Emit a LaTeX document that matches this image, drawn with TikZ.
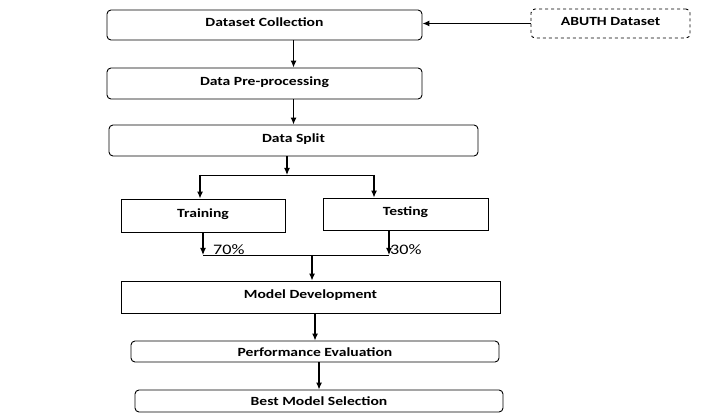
\documentclass[tikz,border=0pt]{standalone}
\usepackage{fontspec}
\setmainfont{Carlito}[FakeStretch=1.25]
\usetikzlibrary{arrows.meta}

\begin{document}
\begin{tikzpicture}[x=1pt, y=-1pt,
    stage/.style={draw, line width=0.9pt, rounded corners=4pt, font=\fontsize{12.5}{14}\selectfont\bfseries, inner sep=0pt, text height=9pt, text depth=5pt},
    part/.style={draw, line width=0.9pt, font=\fontsize{12.5}{14}\selectfont\bfseries, inner sep=0pt, text height=9pt, text depth=5pt},
    arr/.style={line width=1.2pt, -{Latex[length=7pt, width=6pt]}},
    pct/.style={font=\fontsize{14.5}{16}\selectfont, inner sep=1pt}]
    \useasboundingbox (0,0) rectangle (710,414);
    \node[stage, minimum width=315pt, minimum height=30pt] (coll) at (264.5,25) {Dataset Collection};
    \node[stage, dashed, minimum width=159pt, minimum height=29pt] (abuth) at (610.5,23.5) {ABUTH Dataset};
    \node[stage, minimum width=315pt, minimum height=31pt] (pre) at (264.5,83.5) {Data Pre-processing};
    \node[stage, minimum width=369pt, minimum height=31pt] (split) at (293.5,140.5) {Data Split};
    \node[part, minimum width=164pt, minimum height=33pt] (train) at (203,215.5) {Training};
    \node[part, minimum width=165pt, minimum height=32pt] (test) at (405.5,214) {Testing};
    \node[part, minimum width=379pt, minimum height=32pt] (model) at (310.5,297) {Model Development};
    \node[stage, text depth=0pt, minimum width=368pt, minimum height=21pt] (perf) at (315,351.5) {Performance Evaluation};
    \node[stage, text depth=0pt, minimum width=368pt, minimum height=22pt] (best) at (319,401) {Best Model Selection};
    \coordinate (fork) at (287,175);
    \coordinate (fl) at (200,175);
    \coordinate (fr) at (374,175);
    \coordinate (jl) at (203,255);
    \coordinate (jr) at (389,255);
    \coordinate (jm) at (312,255);
    \draw[arr] (abuth.west) -- (abuth.west -| coll.east);
    \draw[arr] (coll.south -| split) -- (pre.north -| split);
    \draw[arr] (pre.south -| split) -- (split.north);
    \draw[arr] (split.south -| fork) -- (fork);
    \draw[line width=0.9pt] (fl) -- (fr);
    \draw[arr] (fl) -- (fl |- train.north);
    \draw[arr] (fr) -- (fr |- test.north);
    \draw[arr] (jl |- train.south) -- (jl);
    \draw[arr] (jr |- test.south) -- (jr);
    \node[pct, anchor=south west] at ([xshift=9pt, yshift=-1pt]jl) {70\%};
    \node[pct, anchor=south west] at ([yshift=-1pt]jr) {30\%};
    \draw[line width=0.9pt] (jl) -- (jr);
    \draw[arr] (jm) -- (jm |- model.north);
    \draw[arr] (model.south -| perf) -- (perf.north);
    \draw[arr] (perf.south -| best) -- (best.north);
\end{tikzpicture}
\end{document}
